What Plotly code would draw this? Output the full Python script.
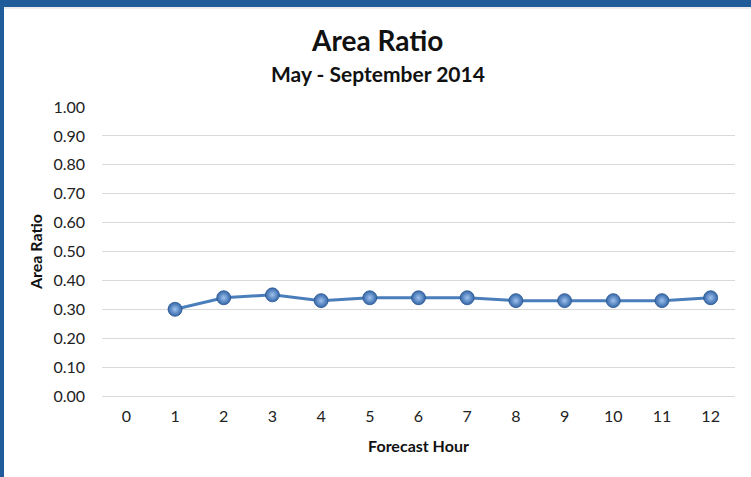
import plotly.graph_objects as go

hours = ["0", "1", "2", "3", "4", "5", "6", "7", "8", "9", "10", "11", "12"]
ratio = [None, 0.30, 0.34, 0.35, 0.33, 0.34, 0.34, 0.34, 0.33, 0.33, 0.33, 0.33, 0.34]
y_ticks = [0.0, 0.1, 0.2, 0.3, 0.4, 0.5, 0.6, 0.7, 0.8, 0.9, 1.0]

W, H = 751, 477
L, R, T, B = 102, 16, 107, 81
pw, ph = W - L - R, H - T - B

def px(x):
    return (x - L) / pw

def py(y):
    return (H - B - y) / ph

FONT = "Lato, Calibri, Carlito, sans-serif"

fig = go.Figure()
fig.add_trace(go.Scatter(
    x=hours, y=ratio, mode="lines+markers",
    line=dict(color="#4A7EBB", width=3),
    marker=dict(size=14, color="#3466A8",
                gradient=dict(type="radial", color="#9EC2EE"),
                line=dict(color="#2A5690", width=0.8)),
    connectgaps=False, showlegend=False,
))

fig.update_layout(
    width=W, height=H,
    margin=dict(l=L, r=R, t=T, b=B),
    paper_bgcolor="white", plot_bgcolor="white",
    font=dict(family=FONT, size=16, color="#222"),
    xaxis=dict(type="category", range=[-0.5, 12.5], showgrid=False,
               showline=False, zeroline=False, ticks="",
               ticklabelstandoff=9,
               title=dict(text="<b>Forecast Hour</b>", font=dict(size=16, color="#111"), standoff=16)),
    yaxis=dict(range=[0, 1.0], tickvals=y_ticks, tickformat=".2f",
               showgrid=True, gridcolor="#D9D9D9", gridwidth=1,
               zeroline=True, zerolinecolor="#D9D9D9", zerolinewidth=1,
               showline=False, ticks="", ticklabelstandoff=16,
               title=dict(text="<b>Area Ratio</b>", font=dict(size=16, color="#111"), standoff=6)),
    shapes=[
        dict(type="rect", xref="paper", yref="paper",
             x0=px(0), x1=px(W), y0=py(7), y1=py(0),
             fillcolor="#1F5C99", line=dict(width=0), layer="above"),
        dict(type="rect", xref="paper", yref="paper",
             x0=px(0), x1=px(4), y0=py(H), y1=py(0),
             fillcolor="#1F5C99", line=dict(width=0), layer="above"),
        dict(type="line", xref="paper", yref="paper",
             x0=px(4), x1=px(W), y0=py(8), y1=py(8),
             line=dict(color="#E6E6E6", width=1.5)),
    ],
    annotations=[
        dict(text="<b>Area Ratio</b>", xref="paper", yref="paper",
             x=px(377), y=py(40), showarrow=False,
             font=dict(size=28, color="#111"), xanchor="center", yanchor="middle"),
        dict(text="<b>May - September 2014</b>", xref="paper", yref="paper",
             x=px(378), y=py(73), showarrow=False,
             font=dict(size=21, color="#111"), xanchor="center", yanchor="middle"),
    ],
)

fig.write_html("out.html", config={"displayModeBar": False},
               post_script="document.body.style.margin='0';")
